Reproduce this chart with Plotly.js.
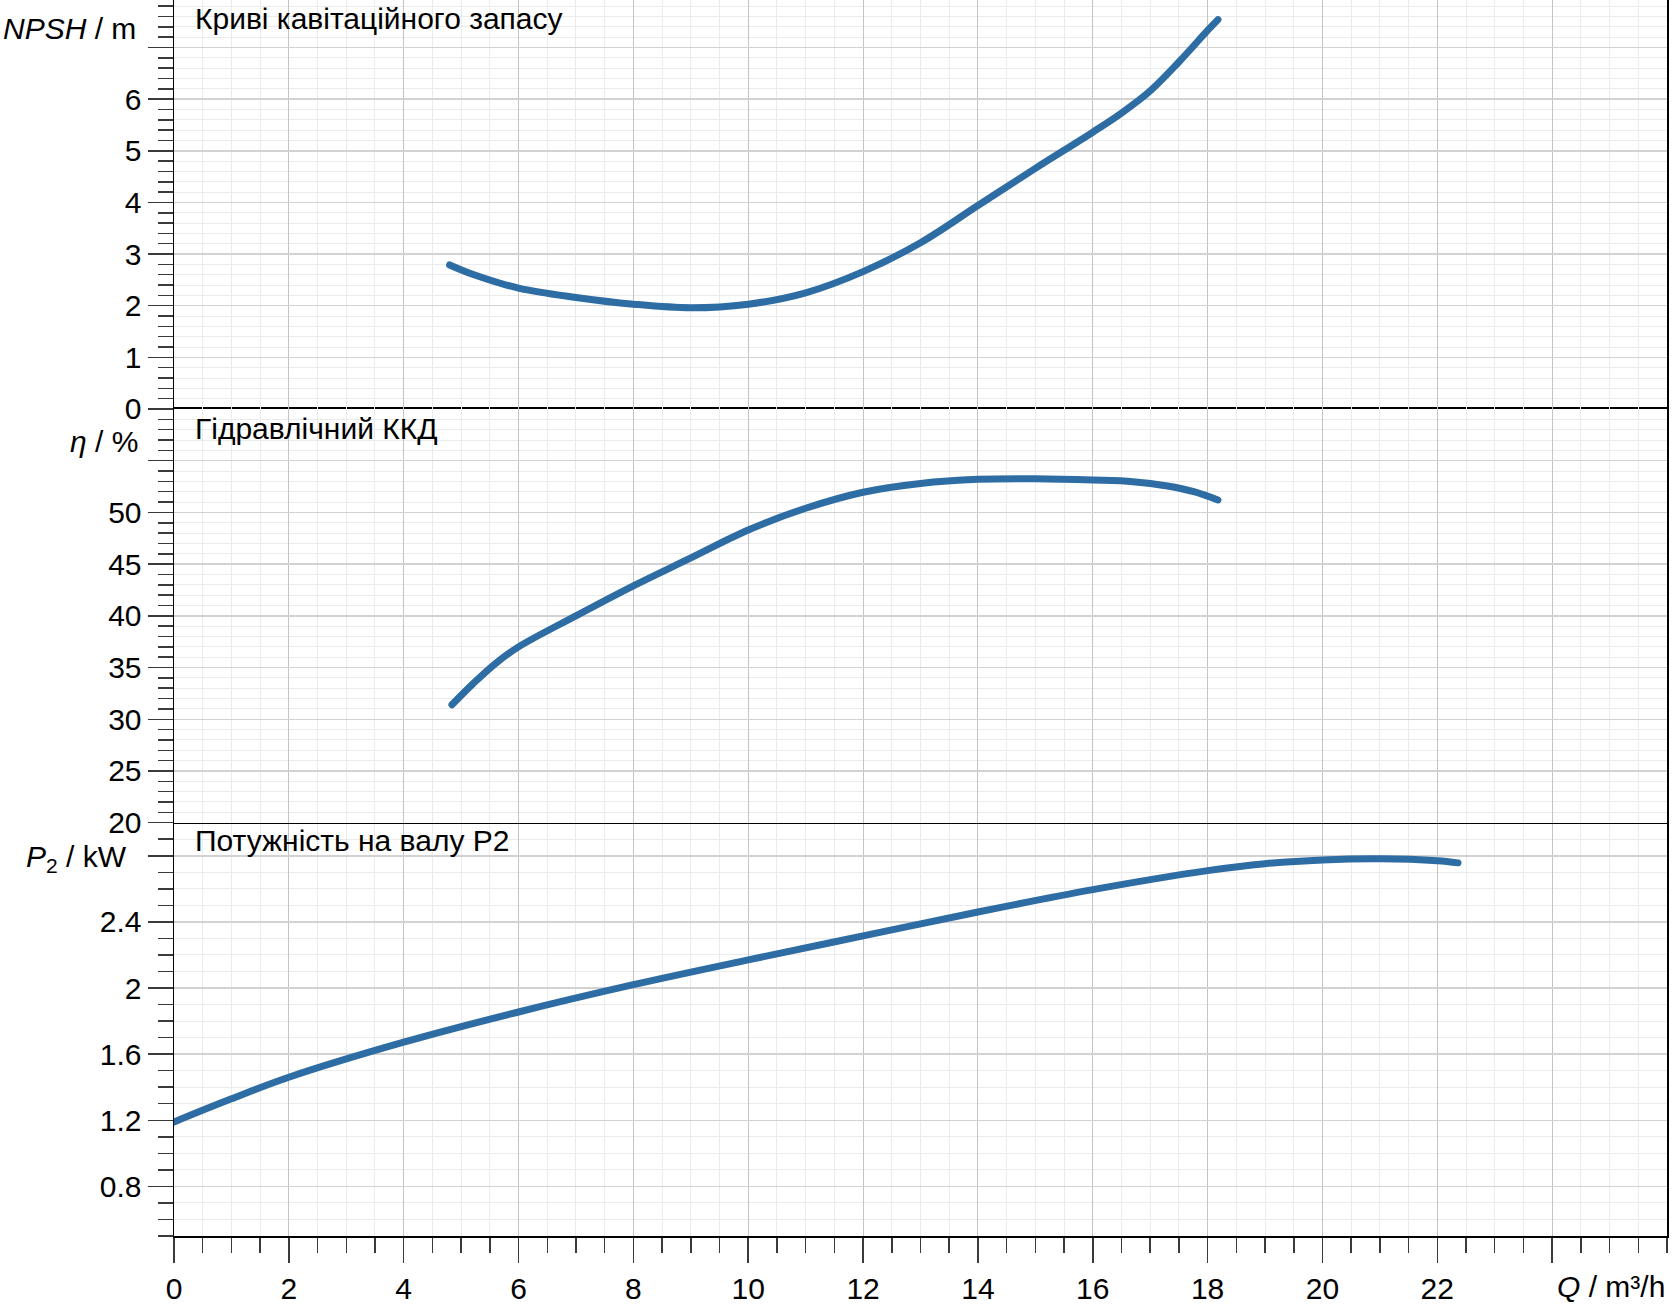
<!DOCTYPE html>
<html>
<head>
<meta charset="utf-8">
<script src="https://cdn.plot.ly/plotly-3.0.1.min.js"></script>
<style>
  html, body { margin: 0; padding: 0; background: #ffffff; }
  #chart { width: 1674px; height: 1306px; }
</style>
</head>
<body>
<div id="chart"></div>
<script>
// Pump characteristic: flow Q (m³/h) against NPSH, hydraulic efficiency and shaft power P2

// NPSH curve
const qNpsh = [4.80, 5.20, 6, 7, 8, 9, 10, 11, 12, 13, 14, 15, 16, 16.5, 17, 17.5, 18, 18.18];
const npsh = [2.79, 2.61, 2.34, 2.16, 2.03, 1.96, 2.03, 2.25, 2.66, 3.22, 3.94, 4.66, 5.36, 5.73, 6.16, 6.72, 7.33, 7.54];

// Hydraulic efficiency curve
const qEff = [4.84, 5.20, 5.60, 6, 7, 8, 9, 10, 11, 12, 13, 14, 15, 16, 16.7, 17.3, 17.76, 18.18];
const eff = [31.4, 33.4, 35.4, 37.0, 40.0, 42.9, 45.6, 48.3, 50.4, 51.95, 52.8, 53.2, 53.25, 53.13, 52.97, 52.55, 52.0, 51.2];

// Shaft power P2 curve
const qP2 = [0, 1, 2, 4, 6, 8, 10, 12, 14, 16, 18, 19, 20, 21, 22, 22.36];
const p2 = [1.19, 1.33, 1.46, 1.672, 1.855, 2.02, 2.17, 2.315, 2.46, 2.595, 2.71, 2.752, 2.775, 2.782, 2.77, 2.757];

// Tick values and labels (the top major tick of each scale carries the unit label instead)
const qTicks = [0, 2, 4, 6, 8, 10, 12, 14, 16, 18, 20, 22, 24];
const qLabels = ['0', '2', '4', '6', '8', '10', '12', '14', '16', '18', '20', '22', ''];
const npshTicks = [0, 1, 2, 3, 4, 5, 6, 7];
const npshLabels = ['0', '1', '2', '3', '4', '5', '6', ''];
const effTicks = [20, 25, 30, 35, 40, 45, 50, 55];
const effLabels = ['20', '25', '30', '35', '40', '45', '50', ''];
const p2Ticks = [0.8, 1.2, 1.6, 2.0, 2.4, 2.8];
const p2Labels = ['0.8', '1.2', '1.6', '2', '2.4', ''];

// Text
const panelTitles = ['Криві кавітаційного запасу', 'Гідравлічний ККД', 'Потужність на валу P2'];
const axisLabels = ['<i>NPSH</i> / m', '<i>η</i> / %', '<i>P</i><sub>2</sub> / kW', '<i>Q</i> / m³/h'];

const FONT = '"Liberation Sans", Arial, sans-serif';
const SIZE = 30;
const CURVE = '#2e6ca4';
const MAJOR_GRID = '#c4c4c4';
const MINOR_GRID = '#ebebeb';
const TICK = '#3a3a3a';

function curve(x, y, xa, ya) {
  return {
    x: x, y: y, xaxis: xa, yaxis: ya,
    type: 'scatter', mode: 'lines',
    line: { color: CURVE, width: 7, shape: 'spline', smoothing: 1 },
    hoverinfo: 'skip', showlegend: false
  };
}

const traces = [
  curve(qP2, p2, 'x', 'y'),
  curve(qEff, eff, 'x2', 'y2'),
  curve(qNpsh, npsh, 'x3', 'y3')
];

function qAxis(anchor, bottom) {
  const ax = {
    anchor: anchor,
    domain: [0, 1],
    range: [0, 26],
    tickmode: 'array',
    tickvals: qTicks,
    ticktext: qLabels,
    showgrid: true,
    gridcolor: MAJOR_GRID,
    gridwidth: 1,
    zeroline: false,
    fixedrange: true,
    minor: { tick0: 0, dtick: 0.5, showgrid: true, gridcolor: MINOR_GRID, gridwidth: 1 }
  };
  if (bottom) {
    Object.assign(ax, {
      ticks: 'outside', ticklen: 25, tickwidth: 1.5, tickcolor: TICK,
      showline: true, linecolor: '#000000', linewidth: 1.5,
      tickfont: { family: FONT, size: SIZE, color: '#000000' },
      ticklabelstandoff: 0
    });
    ax.minor.ticks = 'outside';
    ax.minor.ticklen = 15;
    ax.minor.tickwidth = 1.5;
    ax.minor.tickcolor = TICK;
  } else {
    Object.assign(ax, { matches: 'x', ticks: '', showticklabels: false });
  }
  return ax;
}

function valueAxis(anchor, domain, range, ticks, labels, minorStep) {
  return {
    anchor: anchor,
    domain: domain,
    range: range,
    tickmode: 'array',
    tickvals: ticks,
    ticktext: labels,
    ticks: 'outside', ticklen: 25, tickwidth: 1.5, tickcolor: TICK,
    tickfont: { family: FONT, size: SIZE, color: '#000000' },
    ticklabelstandoff: 0,
    showline: true, linecolor: '#000000', linewidth: 1.5, mirror: true,
    showgrid: true, gridcolor: '#d2d2d2', gridwidth: 1.5,
    zeroline: false,
    fixedrange: true,
    minor: {
      tick0: 0, dtick: minorStep,
      ticks: 'outside', ticklen: 15, tickwidth: 1.5, tickcolor: TICK,
      showgrid: true, gridcolor: MINOR_GRID, gridwidth: 1
    }
  };
}

const xAxisMid = qAxis('y2', false);
Object.assign(xAxisMid, { showline: true, linecolor: '#000000', linewidth: 1.5, mirror: true });

function text(t, x, y, xanchor, yanchor) {
  return {
    text: t, xref: 'paper', yref: 'paper', x: x, y: y,
    xanchor: xanchor, yanchor: yanchor || 'middle', showarrow: false,
    font: { family: FONT, size: SIZE, color: '#000000' }
  };
}

const layout = {
  width: 1674,
  height: 1306,
  margin: { l: 174, r: 7, t: 0, b: 70 },
  paper_bgcolor: '#ffffff',
  plot_bgcolor: '#ffffff',
  showlegend: false,
  xaxis: qAxis('y', true),
  xaxis2: xAxisMid,
  xaxis3: qAxis('y3', false),
  yaxis: valueAxis('x', [0, 0.3344], [0.5, 3.0], p2Ticks, p2Labels, 0.1),
  yaxis2: valueAxis('x2', [0.3344, 0.6691], [20, 60], effTicks, effLabels, 1),
  yaxis3: valueAxis('x3', [0.6691, 1], [0, 7.92], npshTicks, npshLabels, 0.2),
  annotations: [
    text(panelTitles[0], 0.0127, 1.0, 'left', 'top'),
    text(panelTitles[1], 0.0127, 0.6537, 'left'),
    text(panelTitles[2], 0.0127, 0.3196, 'left'),
    text(axisLabels[0], -0.0241, 0.9773, 'right'),
    text(axisLabels[1], -0.023, 0.6424, 'right'),
    text(axisLabels[2], -0.030, 0.3058, 'right'),
    text(axisLabels[3], 1.0, -0.0405, 'right')
  ]
};

Plotly.newPlot('chart', traces, layout, { staticPlot: true, displayModeBar: false }).then(function (gd) {
  // rounded ends on the curves
  gd.querySelectorAll('.scatterlayer path.js-line').forEach(function (p) {
    p.style.strokeLinecap = 'round';
    p.style.strokeLinejoin = 'round';
  });
});
</script>
</body>
</html>
